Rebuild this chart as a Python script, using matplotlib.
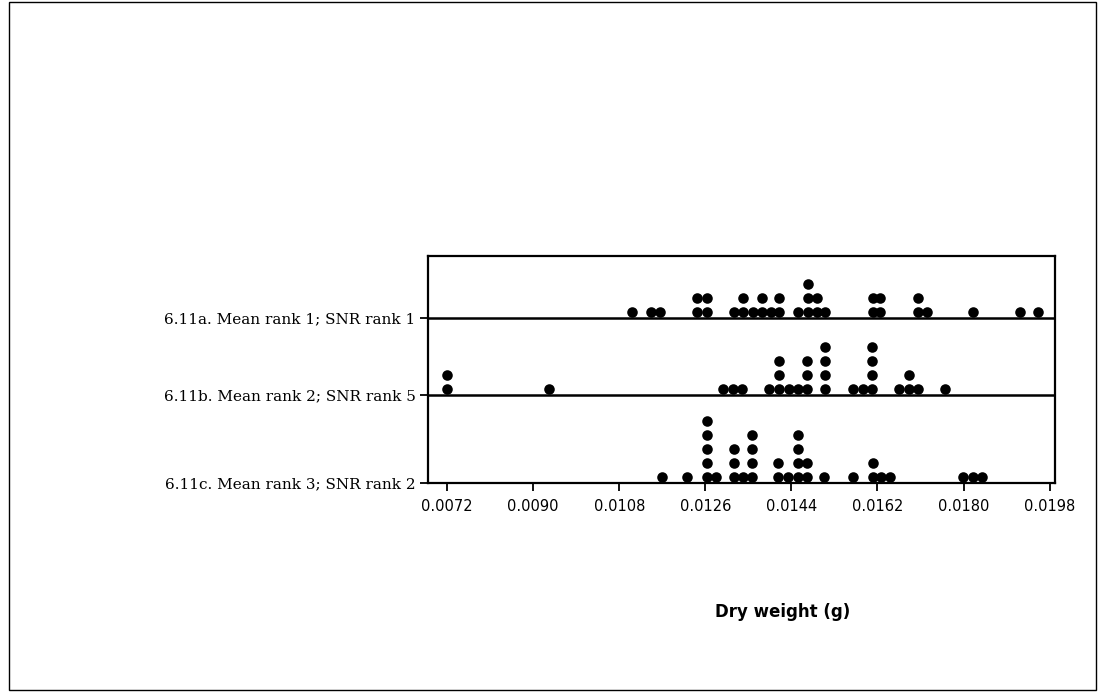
import matplotlib
matplotlib.use("Agg")
import matplotlib.pyplot as plt
from matplotlib.patches import Rectangle

# ---- data (dry weight in g, dot counts per bin) ----
row_labels = ["6.11a. Mean rank 1; SNR rank 1",
              "6.11b. Mean rank 2; SNR rank 5",
              "6.11c. Mean rank 3; SNR rank 2"]

a_vals = [0.01106, 0.01146, 0.01165, 0.01243, 0.01263, 0.01319, 0.01338,
          0.01359, 0.01378, 0.01397, 0.01415, 0.01454, 0.01475, 0.01494,
          0.01510, 0.01610, 0.01625, 0.01705, 0.01723, 0.01820, 0.01918,
          0.01956]
a_counts = [1, 1, 1, 2, 2, 1, 2, 1, 2, 1, 2, 1, 3, 2, 1, 2, 2, 2, 1, 1, 1, 1]

b_vals = [0.00721, 0.00934, 0.01298, 0.01317, 0.01336, 0.01394, 0.01414,
          0.01434, 0.01453, 0.01473, 0.01510, 0.01569, 0.01589, 0.01609,
          0.01666, 0.01686, 0.01705, 0.01761]
b_counts = [2, 1, 1, 1, 1, 1, 3, 1, 1, 3, 4, 1, 1, 4, 1, 2, 1, 1]

c_vals = [0.01169, 0.01221, 0.01263, 0.01282, 0.01319, 0.01338, 0.01358,
          0.01413, 0.01433, 0.01453, 0.01473, 0.01508, 0.01569, 0.01610,
          0.01627, 0.01646, 0.01799, 0.01819, 0.01838]
c_counts = [1, 1, 5, 1, 3, 1, 4, 2, 1, 4, 2, 1, 1, 2, 1, 1, 1, 1, 1]

x_ticks = [0.0072, 0.0090, 0.0108, 0.0126, 0.0144, 0.0162, 0.0180, 0.0198]
x_ticklabels = ["0.0072", "0.0090", "0.0108", "0.0126", "0.0144", "0.0162",
                "0.0180", "0.0198"]
x_label = "Dry weight (g)"

# ---- figure ----
W, H = 1104, 692
fig = plt.figure(figsize=(W / 100, H / 100), dpi=100)

ax_left, ax_right, ax_top, ax_bot = 428, 1055, 256, 483
ax = fig.add_axes([ax_left / W, (H - ax_bot) / H,
                   (ax_right - ax_left) / W, (ax_bot - ax_top) / H])

# y axis in pixel-like units
ax.set_ylim(0, ax_bot - ax_top)
ax.set_xlim(0.006803, 0.019911)
bases = [ax_bot - 318, ax_bot - 395, 0]   # baselines of rows a, b, c

first_off = 6.0
step = 14.0
for vals, counts, base in zip([a_vals, b_vals, c_vals],
                              [a_counts, b_counts, c_counts], bases):
    xs, ys = [], []
    for v, n in zip(vals, counts):
        for k in range(n):
            xs.append(v)
            ys.append(base + first_off + k * step)
    ax.plot(xs, ys, 'o', color='black', ms=7.6, mec='none', clip_on=False)
    if base > 0:
        ax.axhline(base, color='black', lw=1.8)

for s in ax.spines.values():
    s.set_linewidth(1.6)
    s.set_color('black')

ax.set_yticks(bases)
ax.set_yticklabels(row_labels, family='DejaVu Serif', fontsize=11)
ax.set_xticks(x_ticks)
ax.set_xticklabels(x_ticklabels, family='DejaVu Sans', fontsize=10.5)
ax.tick_params(axis='both', direction='out', length=6, width=1.3,
               color='black')
ax.tick_params(axis='x', pad=5.5)
ax.tick_params(axis='y', pad=3)

fig.text(783 / W, 1 - 612 / H, x_label, ha='center', va='center',
         fontsize=12, fontweight='bold', family='DejaVu Sans')

fig.patches.append(Rectangle((9 / W, 2 / H), 1087 / W, 688 / H,
                             transform=fig.transFigure, fill=False,
                             edgecolor='black', lw=1.0))

fig.savefig("out.png", dpi=100, facecolor='white')
